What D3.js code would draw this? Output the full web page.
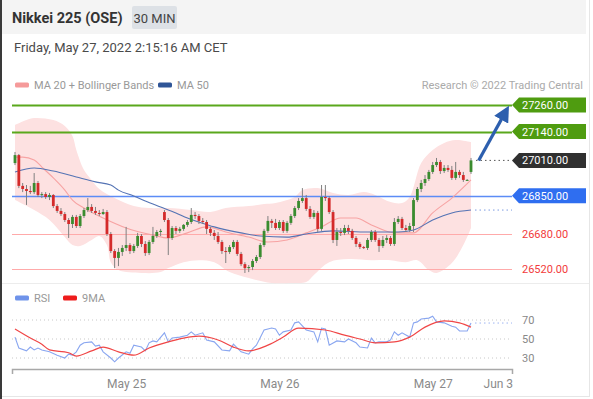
<!DOCTYPE html>
<meta charset="utf-8">
<html>
<head>
<style>
body {
  margin: 0;
  background: #fff;
  font-family: Roboto, Arial, sans-serif;
}
svg text { font-family: Roboto, Arial, sans-serif; }
.xaxis path { stroke: #a8a8a8; stroke-width: 1.5; }
.xaxis text { fill: #8a8a8a; font-size: 12px; }
</style>
</head>
<body>
<div id="chart"></div>

<script src="https://d3js.org/d3.v7.min.js"></script>
<script>

// 30 min candles, bar 0 .. 119
var openP = [26998,27034,26895,26881,26872,26867,26908,26854,26858,26845,
  26854,26804,26782,26768,26741,26723,26755,26714,26759,26786,
  26800,26782,26773,26768,26777,26678,26601,26570,26597,26615,
  26628,26601,26624,26669,26633,26592,26642,26669,26687,26777,
  26741,26660,26705,26692,26701,26719,26732,26764,26759,26737,
  26732,26701,26683,26669,26642,26601,26597,26619,26642,26588,
  26542,26524,26529,26556,26574,26628,26692,26737,26728,26705,
  26732,26692,26728,26759,26795,26827,26840,26791,26755,26773,
  26701,26845,26840,26777,26651,26687,26683,26705,26692,26660,
  26633,26619,26615,26651,26687,26651,26624,26651,26660,26633,
  26732,26746,26705,26696,26714,26831,26881,26908,26926,26958,
  26989,27003,26962,26976,26967,26931,26958,26944,26922,26958];

var highP = [27048,27039,26908,26899,26895,26953,26917,26867,26867,26863,
  26858,26813,26795,26777,26750,26764,26764,26768,26795,26840,
  26813,26800,26786,26791,26786,26687,26610,26615,26628,26710,
  26637,26633,26683,26678,26646,26651,26710,26696,26701,26786,
  26750,26714,26714,26710,26723,26741,26795,26777,26768,26750,
  26741,26710,26696,26687,26651,26619,26628,26651,26651,26597,
  26551,26538,26565,26583,26637,26701,26759,26746,26746,26741,
  26741,26737,26768,26804,26840,26885,26854,26804,26786,26782,
  26899,26899,26849,26786,26705,26705,26719,26719,26701,26669,
  26642,26624,26660,26696,26696,26660,26669,26673,26669,26750,
  26759,26755,26719,26728,26840,26890,26922,26944,26967,27003,
  27021,27012,26989,26989,26985,27003,26967,26958,26926,27021];

var lowP = [26989,26885,26867,26809,26858,26858,26845,26840,26836,26831,
  26795,26773,26759,26732,26660,26705,26705,26705,26750,26777,
  26773,26764,26759,26764,26669,26592,26524,26533,26579,26601,
  26588,26592,26615,26619,26579,26583,26633,26660,26669,26732,
  26583,26651,26678,26683,26692,26710,26723,26746,26723,26723,
  26678,26669,26651,26633,26588,26547,26588,26610,26579,26533,
  26502,26506,26515,26547,26565,26619,26683,26705,26696,26696,
  26683,26683,26719,26750,26786,26818,26782,26746,26746,26687,
  26692,26827,26768,26637,26624,26669,26673,26678,26651,26619,
  26610,26610,26606,26642,26642,26597,26615,26637,26624,26624,
  26723,26696,26687,26687,26687,26822,26867,26895,26917,26949,
  26980,26949,26953,26958,26922,26922,26931,26913,26917,26949];

var closeP = [27034,26895,26881,26872,26867,26908,26854,26858,26845,26854,
  26804,26782,26768,26741,26723,26755,26714,26759,26786,26800,
  26782,26773,26768,26777,26678,26601,26570,26597,26615,26628,
  26601,26624,26669,26633,26592,26642,26669,26687,26692,26741,
  26660,26705,26692,26701,26719,26732,26764,26759,26737,26732,
  26701,26683,26669,26642,26601,26597,26619,26642,26588,26542,
  26524,26529,26556,26574,26628,26692,26737,26728,26705,26732,
  26692,26728,26759,26795,26827,26840,26791,26755,26773,26701,
  26845,26840,26777,26651,26687,26683,26705,26692,26660,26633,
  26619,26615,26651,26687,26651,26624,26651,26660,26633,26732,
  26746,26705,26696,26714,26831,26881,26908,26926,26958,26989,
  27003,26962,26976,26967,26931,26958,26944,26922,26922,27010];

// bollinger bands (at these bars)
var upperIdx = [0,3,5,10,13,15,16,18,20,22,26,31,35,40,46,51,55,61,65,68,73,75,79,83,87,91,94,98,101,103,106,109,112,115,119];
var upperVal = [27170,27192,27201,27192,27165,27120,27057,26967,26922,26881,
  26840,26804,26795,26795,26786,26777,26795,26804,26813,26818,
  26845,26876,26885,26863,26854,26867,26854,26822,26818,26845,
  26998,27057,27089,27102,27093];
var lowerIdx = [0,5,9,13,15,17,20,22,24,25,27,33,38,40,44,48,52,56,61,67,72,76,78,82,87,93,98,102,105,108,110,114,117,119];
var lowerVal = [26831,26786,26741,26664,26628,26624,26651,26669,26628,26551,
  26515,26502,26506,26524,26551,26560,26551,26506,26479,26457,
  26457,26461,26493,26551,26565,26560,26560,26551,26560,26515,
  26502,26547,26628,26705];

var ma20Idx = [0,2,5,7,10,13,15,18,23,29,36,40,45,50,55,61,66,71,76,80,85,89,93,99,104,109,114,119];
var ma20Val = [27025,27025,27012,26980,26931,26876,26831,26795,26750,26705,
  26673,26660,26683,26710,26687,26664,26642,26651,26683,26710,
  26750,26750,26719,26683,26683,26773,26840,26922];

var ma50Idx = [0,5,10,16,21,25,27,31,34,38,42,45,48,52,59,64,71,76,83,92,100,104,109,114,119];
var ma50Val = [26958,26976,26962,26935,26913,26899,26876,26849,26827,26800,
  26773,26750,26732,26710,26683,26669,26664,26678,26692,26687,
  26687,26696,26741,26773,26786];

// RSI panel
var rsiIdx = [0,1,3,4,5,6,7,9,11,13,14,15,16,17,18,20,21,22,23,25,
  26,27,29,30,31,33,34,35,36,37,39,40,41,43,45,46,47,49,50,52,
  54,56,57,59,61,62,63,65,67,68,69,70,72,73,74,76,78,79,80,81,
  82,84,86,87,89,90,92,93,94,95,97,98,99,100,101,103,104,105,106,108,
  109,110,112,114,115,116,118,119];
var rsiVal = [52,40.5,37.5,41.5,38.5,40.5,38.5,36.5,33,30,34,33,36.5,43.5,46,47,42.5,43.5,36.5,30,
  26,30,36.5,35,43.5,41.5,37.5,46,48,47,56.5,47,51,52,54,57.5,54,56.5,49,47,
  38.5,37.5,44.5,36.5,34,39.5,43.5,59.5,61.5,60.5,54,57.5,59.5,67,68,59.5,57.5,47,61.5,60.5,
  43.5,48,47,50,46,41.5,40.5,51,46,47,47,49,57.5,54,56.5,52,67,68,71,72,
  74,68,67,63.5,62.5,58.5,58.5,66.8];
var ma9Idx = [0,4,7,9,14,16,20,23,27,31,35,40,44,48,53,57,61,66,70,74,81,86,90,94,99,103,107,112,116,119];
var ma9Val = [60.5,51,44.5,38.5,35.5,32,37.5,41.5,36.5,33,40.5,47,51,53,49,41.5,37.5,43.5,52,61.5,
  59.5,54,50,46,47,52,62.5,69,67,62.5];
var rsiLevels = [70, 50, 30];

// key levels
var levelValues = [27260, 27140, 27010, 26850, 26680, 26520];
var levelKinds = ["target", "target", "last", "pivot", "support", "support"];

// forecast arrow (bar, price)
var arrowBars = [121, 129];
var arrowPrices = [27010, 27255];

// time axis
var dateBars = [29, 69, 109, 126];
var dateLabels = ["May 25", "May 26", "May 27", "Jun 3"];

var W = 593, H = 399;
var plotLeft = 12, plotRight = 512;

var svg = d3.select("#chart").append("svg")
  .attr("width", W)
  .attr("height", H);

var x = d3.scaleLinear().domain([0, 119]).range([15, 471]);
var y = d3.scaleLinear().domain([26520, 27260]).range([269, 105]);
var yr = d3.scaleLinear().domain([30, 70]).range([358, 320]);

// ---- frame ----
svg.append("rect").attr("x", 2).attr("y", 0).attr("width", 584).attr("height", 34).attr("fill", "#f4f4f4");
svg.append("rect").attr("x", 0).attr("y", 0).attr("width", 2).attr("height", H).attr("fill", "#3a3a3a");
svg.append("line").attr("x1", 589.5).attr("x2", 589.5).attr("y1", 0).attr("y2", 397)
  .attr("stroke", "#e6e6e6");
svg.append("line").attr("x1", 2).attr("x2", 589).attr("y1", 283.5).attr("y2", 283.5)
  .attr("stroke", "#ececec");
svg.append("line").attr("x1", 2).attr("x2", 589).attr("y1", 396.5).attr("y2", 396.5)
  .attr("stroke", "#e6e6e6");

// header
svg.append("text").attr("x", 12).attr("y", 23)
  .style("font-size", "14.5px").style("font-weight", "700").attr("fill", "#333")
  .text("Nikkei 225 (OSE)");
svg.append("rect").attr("x", 132).attr("y", 6).attr("width", 45).attr("height", 23)
  .attr("rx", 2).attr("fill", "#dde1e6");
svg.append("text").attr("x", 154.5).attr("y", 22.5).attr("text-anchor", "middle")
  .style("font-size", "13px").attr("fill", "#444").text("30 MIN");
svg.append("text").attr("x", 14).attr("y", 52)
  .style("font-size", "13px").attr("fill", "#4a4a4a")
  .text("Friday, May 27, 2022 2:15:16 AM CET");

// legend
function legendItem(x0, y0, color, label) {
  svg.append("rect").attr("x", x0).attr("y", y0 - 2.5).attr("width", 14).attr("height", 5)
    .attr("rx", 1.5).attr("fill", color);
  svg.append("text").attr("x", x0 + 19).attr("y", y0 + 4)
    .style("font-size", "11px").attr("fill", "#999").text(label);
}
legendItem(15, 85, "#f59a9a", "MA 20 + Bollinger Bands");
legendItem(158, 85, "#2f5597", "MA 50");
svg.append("text").attr("x", 583).attr("y", 89).attr("text-anchor", "end")
  .style("font-size", "11px").attr("fill", "#aaa").text("Research \u00a9 2022 Trading Central");

legendItem(15, 298, "#6f93ea", "RSI");
legendItem(63, 298, "#ee1c1c", "9MA");

// ---- price panel ----
function pts(idx, vals) { return idx.map(function(d, i) { return [d, vals[i]]; }); }

var smooth = d3.line()
  .x(function(d) { return x(d[0]); })
  .y(function(d) { return y(d[1]); })
  .curve(d3.curveMonotoneX);

var upperPts = pts(upperIdx, upperVal);
var lowerPts = pts(lowerIdx, lowerVal).reverse();
var bandLine = d3.line()
  .x(function(d) { return x(d[0]); })
  .y(function(d) { return y(d[1]); })
  .curve(d3.curveCatmullRom);
var bandPath = bandLine(upperPts) + bandLine(lowerPts).replace(/^M/, "L") + "Z";

svg.append("path")
  .attr("d", bandPath)
  .attr("fill", "#fde1e1");

// level lines
var levelStyle = {
  target: { line: "#5aa81c", width: 2, tag: "#4f9c10", text: "#fff" },
  last:   { line: null, width: 0, tag: "#303030", text: "#fff" },
  pivot:  { line: "#5c8cf6", width: 1.5, tag: "#2f6ef0", text: "#fff" },
  support:{ line: "#ffaaaa", width: 1.2, tag: null, text: "#f23b3b" }
};

levelValues.forEach(function(v, i) {
  var s = levelStyle[levelKinds[i]];
  if (s.line) {
    svg.append("line")
      .attr("x1", plotLeft).attr("x2", plotRight)
      .attr("y1", Math.round(y(v)) + 0.5).attr("y2", Math.round(y(v)) + 0.5)
      .attr("stroke", s.line).attr("stroke-width", s.width);
  }
});

// moving averages
svg.append("path")
  .attr("d", smooth(pts(ma20Idx, ma20Val)))
  .attr("fill", "none").attr("stroke", "#f7a3a3").attr("stroke-width", 1.1);
svg.append("path")
  .attr("d", smooth(pts(ma50Idx, ma50Val)))
  .attr("fill", "none").attr("stroke", "#5473b4").attr("stroke-width", 1.1);

// dotted extension of MA 50 and last price
var lastBar = closeP.length - 1;
svg.append("line")
  .attr("x1", x(lastBar) + 4).attr("x2", plotRight)
  .attr("y1", y(ma50Val[ma50Val.length - 1])).attr("y2", y(ma50Val[ma50Val.length - 1]))
  .attr("stroke", "#7d9be0").attr("stroke-width", 1).attr("stroke-dasharray", "1.5,3");
svg.append("line")
  .attr("x1", x(lastBar) + 5).attr("x2", plotRight)
  .attr("y1", y(closeP[lastBar])).attr("y2", y(closeP[lastBar]))
  .attr("stroke", "#555").attr("stroke-width", 1).attr("stroke-dasharray", "1.5,3");

// candles
var bars = d3.range(closeP.length);
var candles = svg.append("g");
candles.selectAll("line")
  .data(bars)
  .enter().append("line")
    .attr("x1", function(i) { return x(i); })
    .attr("x2", function(i) { return x(i); })
    .attr("y1", function(i) { return y(highP[i]); })
    .attr("y2", function(i) { return y(lowP[i]); })
    .attr("stroke", "#808080")
    .attr("stroke-width", 1);
candles.selectAll("rect")
  .data(bars)
  .enter().append("rect")
    .attr("x", function(i) { return x(i) - 1.4; })
    .attr("width", 2.8)
    .attr("y", function(i) { return y(Math.max(openP[i], closeP[i])); })
    .attr("height", function(i) { return Math.max(1, Math.abs(y(openP[i]) - y(closeP[i]))); })
    .attr("fill", function(i) { return closeP[i] >= openP[i] ? "#3a8c2f" : "#d42a2a"; });

// forecast arrow
svg.append("defs").append("marker")
  .attr("id", "head")
  .attr("viewBox", "0 0 10 10")
  .attr("refX", 4).attr("refY", 5)
  .attr("markerWidth", 5).attr("markerHeight", 5)
  .attr("orient", "auto")
  .append("path").attr("d", "M0,0L10,5L0,10Z").attr("fill", "#2d5fae");

svg.append("line")
  .attr("x1", x(arrowBars[0])).attr("y1", y(arrowPrices[0]))
  .attr("x2", x(arrowBars[1]) - 5).attr("y2", y(arrowPrices[1]) + 8)
  .attr("stroke", "#2d5fae").attr("stroke-width", 3.2)
  .attr("marker-end", "url(#head)");

// price tags
levelValues.forEach(function(v, i) {
  var s = levelStyle[levelKinds[i]];
  var yc = y(v);
  if (s.tag) {
    svg.append("path")
      .attr("d", "M" + plotRight + "," + yc + "L" + (plotRight + 7) + "," + (yc - 7.5) +
        "H586V" + (yc + 7.5) + "H" + (plotRight + 7) + "Z")
      .attr("fill", s.tag);
  }
  svg.append("text")
    .attr("x", 522).attr("y", yc + 4)
    .style("font-size", "11px").attr("fill", s.text)
    .text(d3.format(".2f")(v));
});

// ---- RSI panel ----
rsiLevels.forEach(function(v) {
  svg.append("line")
    .attr("x1", plotLeft).attr("x2", plotRight)
    .attr("y1", yr(v)).attr("y2", yr(v))
    .attr("stroke", "#c8c8c8").attr("stroke-dasharray", "1,3");
  svg.append("text")
    .attr("x", 522).attr("y", yr(v) + 4)
    .style("font-size", "11px").attr("fill", "#888")
    .text(v);
});

var rsiLine = d3.line()
  .x(function(d) { return x(d[0]); })
  .y(function(d) { return yr(d[1]); });
svg.append("path")
  .attr("d", rsiLine(pts(rsiIdx, rsiVal)))
  .attr("fill", "none").attr("stroke", "#89a6f0").attr("stroke-width", 1.1);
svg.append("line")
  .attr("x1", x(lastBar) + 4).attr("x2", plotRight)
  .attr("y1", yr(rsiVal[rsiVal.length - 1])).attr("y2", yr(rsiVal[rsiVal.length - 1]))
  .attr("stroke", "#9db5f2").attr("stroke-dasharray", "1.5,3");

svg.append("path")
  .attr("d", rsiLine.curve(d3.curveMonotoneX)(pts(ma9Idx, ma9Val)))
  .attr("fill", "none").attr("stroke", "#f04646").attr("stroke-width", 1.2);

// time axis
var xa = d3.scaleLinear()
  .domain([x.invert(plotLeft), x.invert(plotRight)])
  .range([plotLeft, plotRight]);
svg.append("g")
  .attr("class", "xaxis")
  .attr("transform", "translate(0,369)")
  .call(d3.axisBottom(xa)
    .tickValues(dateBars)
    .tickFormat(function(d, i) { return dateLabels[i]; })
    .tickSizeInner(0)
    .tickSizeOuter(5)
    .tickPadding(10))
  .call(function(g) { g.selectAll(".tick line").remove(); });

</script>
</body>
</html>
